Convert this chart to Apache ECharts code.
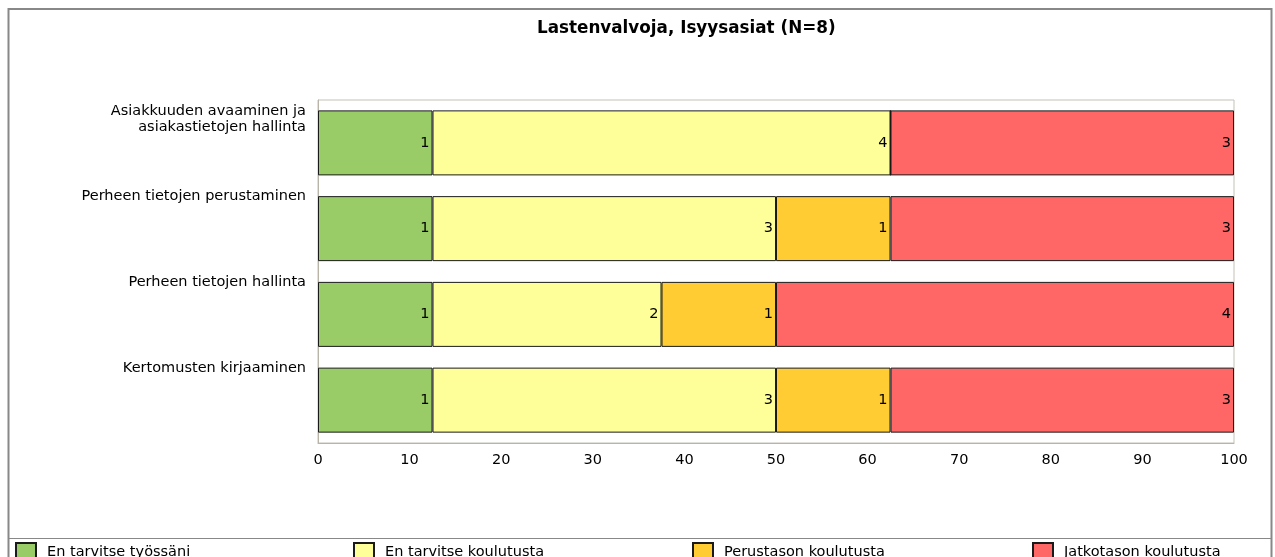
<!DOCTYPE html>
<html>
<head>
<meta charset="utf-8">
<script src="https://cdn.jsdelivr.net/npm/echarts@6/dist/echarts.min.js"></script>
<style>
html, body { margin: 0; padding: 0; background: #fff; }
#main { width: 1275px; height: 557px; }
</style>
</head>
<body>
<div id="main"></div>
<script>
var categories = [
    'Asiakkuuden avaaminen ja\nasiakastietojen hallinta',
    'Perheen tietojen perustaminen',
    'Perheen tietojen hallinta',
    'Kertomusten kirjaaminen'
];
var seriesNames = ['En tarvitse työssäni', 'En tarvitse koulutusta', 'Perustason koulutusta', 'Jatkotason koulutusta'];
var colors = ['#99cc66', '#ffff99', '#ffcc33', '#ff6666'];
var enTyossa = [1, 1, 1, 1];
var enKoulutusta = [4, 3, 2, 3];
var perustaso = [0, 1, 1, 1];
var jatkotaso = [3, 3, 4, 3];
var N = 8;
var xTicks = [0, 10, 20, 30, 40, 50, 60, 70, 80, 90, 100];

var FONT = 'DejaVu Sans';
var myChart = echarts.init(document.getElementById('main'));
var counts = [enTyossa, enKoulutusta, perustaso, jatkotaso];

var series = [];
for (var i = 0; i < counts.length; i++) {
    (function (arr, idx) {
        series.push({
            name: seriesNames[idx],
            type: 'bar',
            stack: 'total',
            barWidth: 65,
            itemStyle: { color: colors[idx], borderColor: '#1a1a1a', borderWidth: 1 },
            label: {
                show: true,
                position: 'insideRight',
                distance: 3,
                color: '#000',
                fontFamily: FONT,
                fontSize: 14.5,
                formatter: function (p) { return arr[p.dataIndex] > 0 ? String(arr[p.dataIndex]) : ''; }
            },
            data: arr.map(function (v) { return v / N * 100; })
        });
    })(counts[i], i);
}

// pad category labels to the same line count so they sit at the top of each band
function padLabel(s) {
    var lines = s.split('\n');
    while (lines.length < 5) lines.push(' ');
    return lines.join('\n');
}

var legendLefts = [15, 353, 692, 1032];
var legends = seriesNames.map(function (n, i) {
    return {
        data: [n],
        left: legendLefts[i],
        top: 542,
        padding: 0,
        icon: 'rect',
        itemWidth: 20,
        itemHeight: 19,
        selectedMode: false,
        textStyle: { color: '#000', fontSize: 14.5, fontFamily: FONT, padding: [0, 0, 0, 6] }
    };
});

option = {
    backgroundColor: '#fff',
    animation: false,
    title: {
        text: 'Lastenvalvoja, Isyysasiat (N=8)',
        left: 537,
        top: 20,
        padding: 0,
        textStyle: { color: '#000', fontSize: 16.8, fontWeight: 'bold', fontFamily: FONT }
    },
    legend: legends,
    grid: {
        left: 318,
        right: 41,
        top: 100,
        bottom: 114,
        show: true,
        borderColor: '#c4c1b6',
        borderWidth: 1
    },
    xAxis: {
        type: 'value',
        min: xTicks[0],
        max: xTicks[xTicks.length - 1],
        interval: 10,
        axisLine: { show: true, lineStyle: { color: '#b8b4a8' } },
        axisTick: { show: false },
        splitLine: { show: false },
        axisLabel: { color: '#000', fontSize: 14.5, margin: 10, fontFamily: FONT }
    },
    yAxis: {
        type: 'category',
        inverse: true,
        data: categories,
        axisLine: { show: true, lineStyle: { color: '#b8b4a8' } },
        axisTick: { show: false },
        axisLabel: {
            interval: 0,
            hideOverlap: false,
            color: '#000',
            fontSize: 14.5,
            lineHeight: 16,
            margin: 12,
            fontFamily: FONT,
            align: 'right',
            formatter: function (v) { return padLabel(v); }
        }
    },
    graphic: [
        { type: 'rect', shape: { x: 8.5, y: 9, width: 1263, height: 560 }, style: { fill: 'none', stroke: '#888', lineWidth: 2 }, silent: true },
        { type: 'line', shape: { x1: 8, y1: 538.5, x2: 1272, y2: 538.5 }, style: { stroke: '#888', lineWidth: 1 }, silent: true }
    ],
    series: series
};
myChart.setOption(option);
</script>
</body>
</html>
